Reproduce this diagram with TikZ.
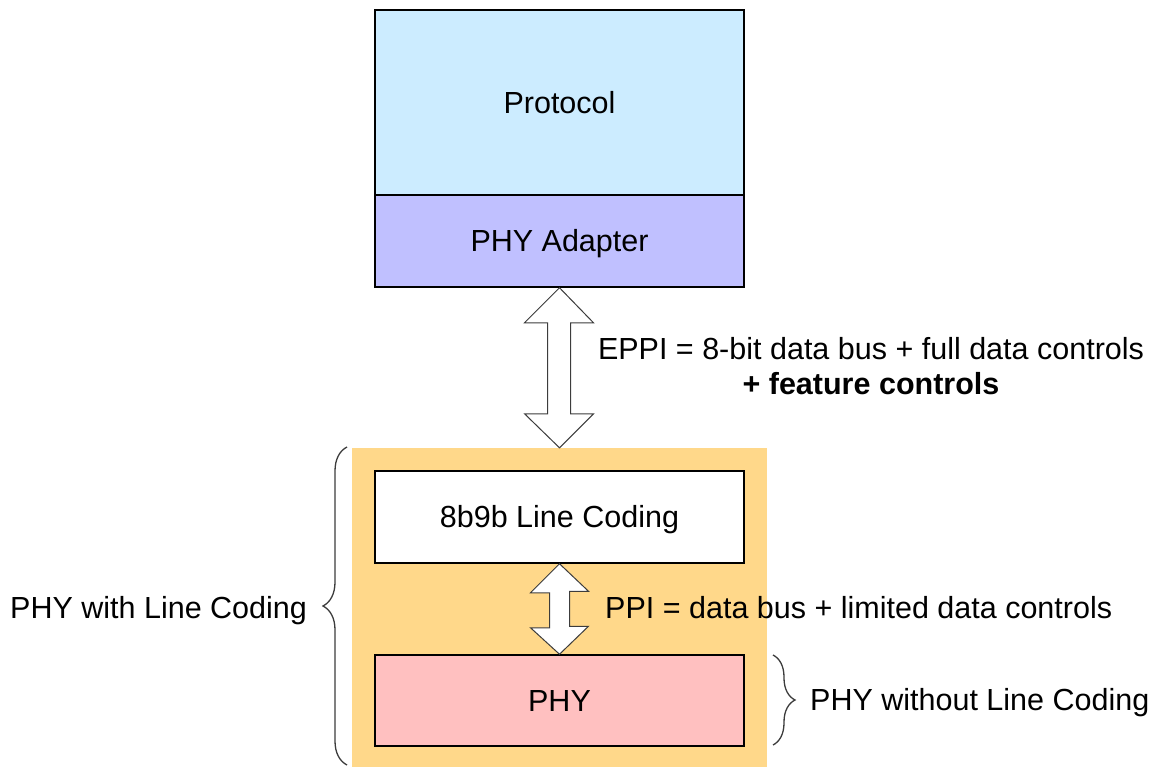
\documentclass[tikz,border=0pt]{standalone}
\usepackage{fontspec}
\setmainfont{Liberation Sans}
\usetikzlibrary{decorations.pathreplacing,calc}
\definecolor{protc}{RGB}{204,236,255}
\definecolor{adapc}{RGB}{192,192,255}
\definecolor{zonec}{RGB}{255,216,138}
\definecolor{phyc}{RGB}{255,192,192}
\definecolor{linec}{RGB}{60,60,60}
\begin{document}
\begin{tikzpicture}[x=1pt,y=-1pt,
  every node/.style={font=\fontsize{30.5}{35}\selectfont},
  box/.style={draw=black, line width=1.5pt, minimum width=369pt, inner sep=0pt,
    text height=21.8pt, text depth=0pt},
  lbl/.style={inner sep=0pt, text height=21.8pt, text depth=0pt},
  arrowshape/.style={draw=linec, line width=1pt, fill=white, line join=miter},
  bracestyle/.style={draw=linec, line width=1.3pt, decorate}]
\useasboundingbox (0,0) rectangle (1159,767);
% orange zone
\node[fill=zonec, minimum width=415pt, minimum height=319pt, inner sep=0pt] (zone) at (559.5,607.5) {};
% boxes
\node[box, fill=protc, minimum height=185pt] (protocol) at (559.5,102.5) {Protocol};
\node[box, fill=adapc, minimum height=92pt] (adapter) at (559.5,241) {PHY Adapter};
\node[box, fill=white, minimum height=92pt] (coding) at (559.5,517) {8b9b Line Coding};
\node[box, fill=phyc, minimum height=91pt] (phy) at (559.5,700.5) {PHY};
% EPPI double arrow
\draw[arrowshape] (adapter.south) -- ++(-35,35) -- ++(23,0) -- ++(0,91) -- ++(-23,0)
  -- (zone.north) -- ++(34,-34) -- ++(-23,0) -- ++(0,-91) -- ++(23,0) -- cycle;
% PPI double arrow
\draw[arrowshape] (coding.south) -- ++(-29,29) -- ++(19,0) -- ++(0,35) -- ++(-19,0)
  -- (phy.north) -- ++(29,-28) -- ++(-19,0) -- ++(0,-35) -- ++(19,0) -- cycle;
% labels
\node[align=center, anchor=north, inner sep=0pt] (eppi) at (871,337)
  {EPPI = 8-bit data bus + full data controls\\\textbf{+ feature controls}};
\node[lbl, anchor=west] (ppi) at (605,608) {PPI = data bus + limited data controls};
\node[lbl, anchor=west] (withlc) at (10,608) {PHY with Line Coding};
\node[lbl, anchor=west] (withoutlc) at (810,700) {PHY without Line Coding};
% braces
\coordinate (lbb) at (347,765);
\coordinate (lbt) at (347,447);
\draw[bracestyle, decoration={brace, amplitude=24pt}] (lbb) -- (lbt);
\coordinate (rbt) at (773,655);
\coordinate (rbb) at (773,745);
\draw[bracestyle, decoration={brace, amplitude=22pt}] (rbt) -- (rbb);
\end{tikzpicture}
\end{document}
